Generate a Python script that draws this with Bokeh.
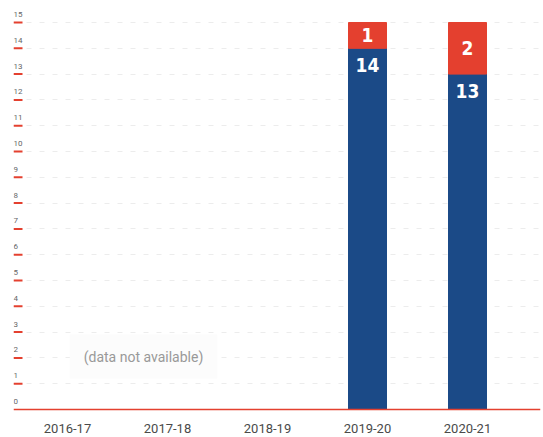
from bokeh.plotting import figure
from bokeh.models import ColumnDataSource, Span, FixedTicker
from bokeh.core.properties import value
from bokeh.embed import file_html
from bokeh.resources import INLINE

# ---- data ----
years = ["2016-17", "2017-18", "2018-19", "2019-20", "2020-21"]
blue_vals = [None, None, None, 14, 13]
red_vals = [None, None, None, 1, 2]
y_ticks = list(range(0, 16))
note_text = "(data not available)"

BLUE = "#1b4a87"
RED = "#e4402f"

p = figure(width=543, height=437, output_backend="svg", toolbar_location=None,
           x_range=(-0.54, 4.73), y_range=(-1.085, 15.853),
           x_axis_location=None, y_axis_location=None,
           min_border_left=13, min_border_right=3, min_border_top=0, min_border_bottom=0)
p.outline_line_color = None
p.background_fill_color = "white"

# grid
p.xgrid.visible = False
p.ygrid.ticker = FixedTicker(ticks=y_ticks[1:])
p.ygrid.grid_line_color = "#ececec"
p.ygrid.grid_line_dash = "5 8"
p.ygrid.grid_line_width = 1

# stacked bars
idx = [i for i, v in enumerate(blue_vals) if v is not None]
bx = idx
b_top = [blue_vals[i] for i in idx]
r_bot = b_top
r_top = [blue_vals[i] + red_vals[i] for i in idx]
src = ColumnDataSource(dict(x=bx, b_top=b_top, r_bot=r_bot, r_top=r_top,
                            b_lab=[str(v) for v in b_top],
                            r_lab=[str(red_vals[i]) for i in idx],
                            r_mid=[(a + b) / 2 for a, b in zip(r_bot, r_top)]))
p.vbar(x="x", width=0.38, bottom=0, top="b_top", source=src, color=BLUE)
p.vbar(x="x", width=0.38, bottom="r_bot", top="r_top", source=src, color=RED)

lab_font = value("'DejaVu Sans Condensed', 'Liberation Sans Narrow', 'Roboto', sans-serif")
p.text(x="x", y="b_top", text="b_lab", source=src, text_color="white",
       text_font=lab_font, text_font_style="bold", text_font_size="19px",
       text_align="center", text_baseline="middle", y_offset=17)
p.text(x="x", y="r_mid", text="r_lab", source=src, text_color="white",
       text_font=lab_font, text_font_style="bold", text_font_size="19px",
       text_align="center", text_baseline="middle")

# zero line
p.add_layout(Span(location=0, dimension="width", line_color=RED, line_width=1.6))

# y tick marks and labels
xl = p.x_range.start
tick_src = ColumnDataSource(dict(x=[xl] * (len(y_ticks) - 1), y=y_ticks[1:]))
p.ray(x="x", y="y", length=9, length_units="screen", angle=0, source=tick_src,
      line_color=RED, line_width=2)
lab_src = ColumnDataSource(dict(x=[xl] * len(y_ticks), y=y_ticks,
                                t=[str(v) for v in y_ticks]))
p.text(x="x", y="y", text="t", source=lab_src, text_color="#666666",
       text_font=value("Roboto"), text_font_size="8px",
       text_align="left", text_baseline="middle", y_offset=-8)

# x category labels
xs = ColumnDataSource(dict(x=list(range(len(years))), y=[0] * len(years), t=years))
p.text(x="x", y="y", text="t", source=xs, text_color="#4a4a4a",
       text_font=value("Roboto"), text_font_size="13px",
       text_align="center", text_baseline="middle", y_offset=19)

# note
p.text(x=[0.76], y=[2.05], text=[note_text], text_color="#999999",
       text_font=value("Roboto"), text_font_size="14px",
       text_align="center", text_baseline="middle",
       background_fill_color="#fcfcfc", padding=14)

open("out.html", "w").write(file_html(p, INLINE))
